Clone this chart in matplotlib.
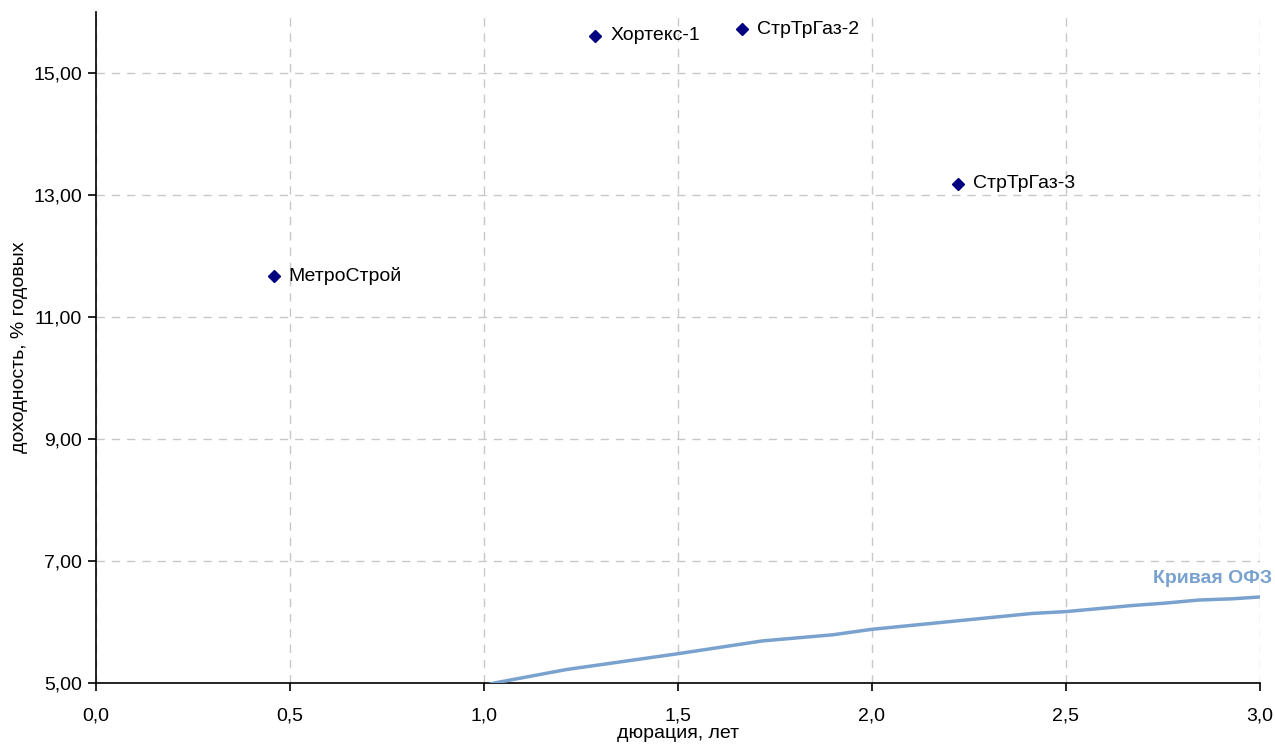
import matplotlib
matplotlib.use("Agg")
import matplotlib.pyplot as plt
from matplotlib.ticker import FuncFormatter, MultipleLocator

plt.rcParams['font.family'] = ['Liberation Sans', 'DejaVu Sans']

# bonds: duration (years) vs yield (% p.a.)
bond_names = ["МетроСтрой", "Хортекс-1", "СтрТрГаз-2", "СтрТрГаз-3"]
bond_duration = [0.458, 1.287, 1.665, 2.222]
bond_yield = [11.67, 15.61, 15.72, 13.18]

# OFZ yield curve
ofz_duration = [1.00, 1.027, 1.212, 1.50, 1.718, 1.899, 2.00, 2.413, 2.50,
                2.671, 2.757, 2.843, 2.929, 3.00]
ofz_yield = [4.95, 5.00, 5.22, 5.48, 5.69, 5.79, 5.88, 6.14, 6.17,
             6.27, 6.31, 6.36, 6.38, 6.41]

curve_color = "#7aa2cf"
point_color = "#000080"
fs = 14

fig = plt.figure(figsize=(12.75, 7.47), dpi=100)
ax = fig.add_axes([0.0753, 0.0857, 0.9129, 0.8983])

ax.plot(ofz_duration, ofz_yield, color=curve_color, lw=2.5, zorder=3)
ax.plot(bond_duration, bond_yield, ls="none", marker="D", ms=6,
        color=point_color, zorder=4)
for name, x, y in zip(bond_names, bond_duration, bond_yield):
    ax.annotate(name, (x, y), xytext=(15, 0), textcoords="offset pixels",
                va="center", ha="left", fontsize=fs, color="black")

ax.text(3.03, 6.64, "Кривая ОФЗ", color=curve_color, fontsize=fs,
        fontweight="bold", ha="right", va="baseline")

ax.set_xlim(0, 3.0)
ax.set_ylim(5, 16)
ax.xaxis.set_major_locator(MultipleLocator(0.5))
ax.set_yticks([5, 7, 9, 11, 13, 15])
ax.xaxis.set_major_formatter(FuncFormatter(lambda v, p: f"{v:.1f}".replace(".", ",")))
ax.yaxis.set_major_formatter(FuncFormatter(lambda v, p: f"{v:.2f}".replace(".", ",")))

ax.grid(True, color="#c8c8c8", ls=(0, (6, 5)), lw=1)
ax.set_axisbelow(True)
for s in ["top", "right"]:
    ax.spines[s].set_visible(False)
for s in ["left", "bottom"]:
    ax.spines[s].set_color("black")
    ax.spines[s].set_linewidth(1.2)

ax.tick_params(axis="both", direction="out", length=6, width=1.2,
               labelsize=fs, colors="black")
ax.tick_params(axis="x", pad=12)
ax.tick_params(axis="y", pad=4)

ax.set_xlabel("дюрация, лет", fontsize=fs, labelpad=0)
ax.set_ylabel("доходность, % годовых", fontsize=fs)
ax.yaxis.set_label_coords(-0.058, 0.5)

fig.savefig("out.png", dpi=100)
